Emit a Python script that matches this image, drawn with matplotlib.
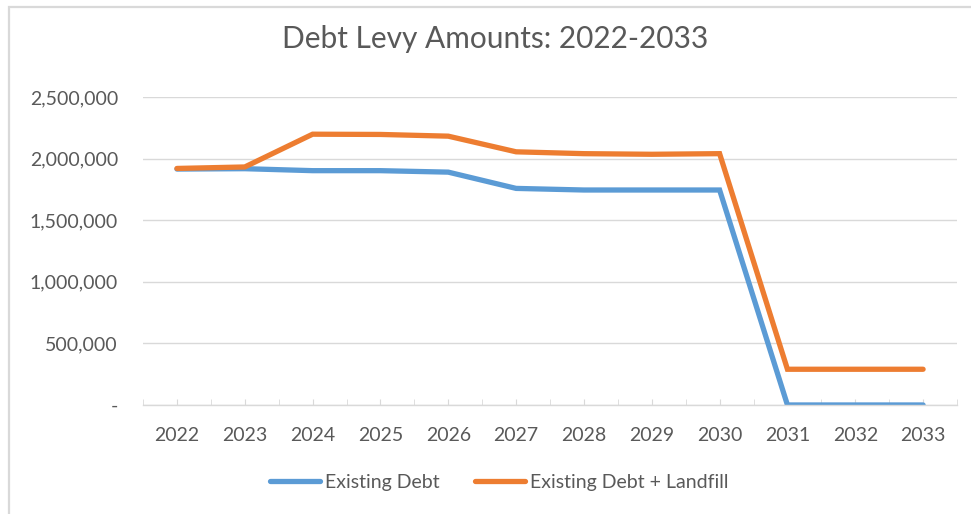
import matplotlib
matplotlib.use("Agg")
import matplotlib.pyplot as plt
from matplotlib.ticker import FuncFormatter, MultipleLocator
from matplotlib.patches import Rectangle

years = ['2022', '2023', '2024', '2025', '2026', '2027', '2028', '2029', '2030', '2031', '2032', '2033']
existing_debt = [1915000, 1918000, 1902000, 1902000, 1890000, 1758000, 1745000, 1745000, 1745000, 0, 0, 0]
debt_plus_landfill = [1920000, 1932000, 2198000, 2196000, 2182000, 2055000, 2040000, 2035000, 2040000, 290000, 290000, 290000]

text_color = "#595959"
grid_color = "#D9D9D9"
plt.rcParams['font.family'] = ['Lato', 'DejaVu Sans']

fig = plt.figure(figsize=(9.71, 5.14), dpi=100)
ax = fig.add_axes([0.1473, 0.2121, 0.8383, 0.5992])

x = list(range(len(years)))
ax.plot(x, existing_debt, color="#5B9BD5", lw=3.8, solid_capstyle='round', solid_joinstyle='miter', label="Existing Debt")
ax.plot(x, debt_plus_landfill, color="#ED7D31", lw=3.8, solid_capstyle='round', solid_joinstyle='miter', label="Existing Debt + Landfill")

ax.set_xlim(-0.5, len(years) - 0.5)
ax.set_ylim(0, 2500000)
ax.set_xticks(x)
ax.set_xticklabels(years)
ax.xaxis.set_minor_locator(MultipleLocator(1, offset=0.5))
ax.yaxis.set_major_locator(MultipleLocator(500000))
ax.yaxis.set_major_formatter(FuncFormatter(lambda v, p: "-" if v == 0 else f"{int(v):,}"))

ax.grid(axis='y', color=grid_color, lw=1)
ax.set_axisbelow(True)
for s in ['top', 'right', 'left']:
    ax.spines[s].set_visible(False)
ax.spines['bottom'].set_color(grid_color)
ax.spines['bottom'].set_linewidth(1)

ax.tick_params(axis='x', which='both', direction='in', length=4, color=grid_color, labelsize=14, labelcolor=text_color, pad=16)
ax.tick_params(axis='y', length=0, labelsize=14, labelcolor=text_color, pad=18)

fig.text(0.51, 0.9066, "Debt Levy Amounts: 2022-2033", ha='center', va='baseline', fontsize=21.5, color=text_color)

fig.legend(loc='center', bbox_to_anchor=(0.514, 0.062), ncol=2, frameon=False, fontsize=14,
           labelcolor=text_color, handlelength=2.6, handletextpad=0.25, columnspacing=1.8)

# chart frame
fig.patches.append(Rectangle((9 / 971, -0.1), 1.2, 1.1 - 7 / 514, transform=fig.transFigure,
                             fill=False, edgecolor=grid_color, lw=1.6))

fig.savefig("out.png", dpi=100)
